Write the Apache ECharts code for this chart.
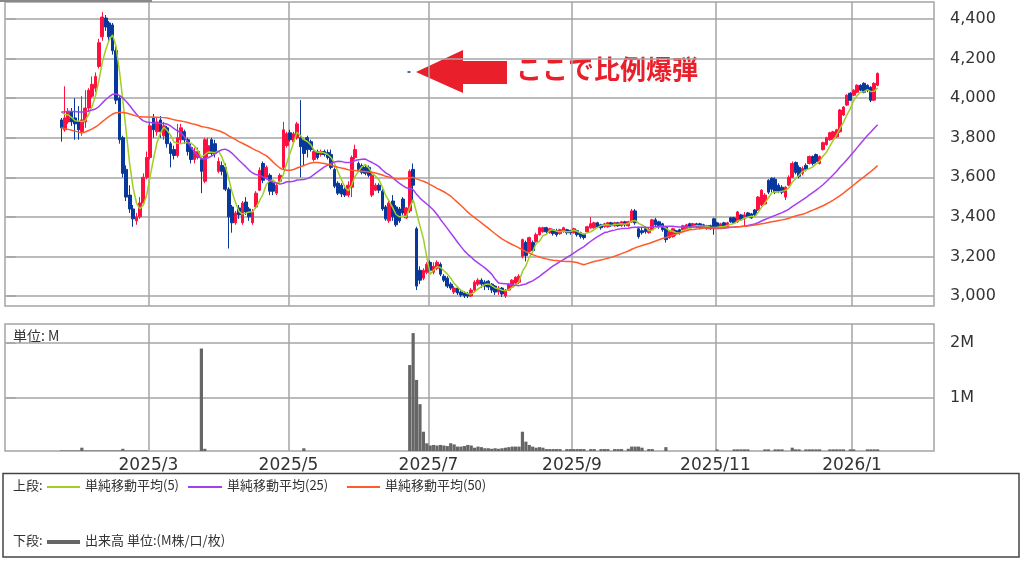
<!DOCTYPE html>
<html><head><meta charset="utf-8">
<script src="https://cdn.jsdelivr.net/npm/echarts@6/dist/echarts.min.js"></script>
<style>html,body{margin:0;padding:0;background:#fff;}#c{width:1024px;height:565px;}</style>
</head><body><div id="c"></div>
<script>
// ---- axis / calendar ----
const startDate = '2024-12-24';
const endDate = '2026-02-06';
const holidays = ['2024-12-31','2025-01-01','2025-01-02','2025-01-03','2025-01-13','2025-02-11','2025-02-24','2025-03-20','2025-04-29','2025-05-05','2025-05-06','2025-07-21','2025-08-11','2025-09-15','2025-09-23','2025-10-13','2025-11-03','2025-11-24','2025-12-31','2026-01-01','2026-01-02','2026-01-12','2026-02-11'];
const firstCandleDate = '2025-01-22';
const monthTicks = ['2025-03','2025-05','2025-07','2025-09','2025-11','2026-01'];
const priceTicks = [3000,3200,3400,3600,3800,4000,4200,4400];
const volumeTicks = [1,2];

// closes before the first visible candle (only used to seed the moving averages)
const priorCloses = [4100,4120,4080,4110,4090,4100,
3700,3680,3650,3640,3660,3670,3690,3660,3640,3650,3670,3680,3660,3650,3670,3680,3660,3650,3690,
3880,3870,3890,3880,3900,3880,3920,3940,3960,3980,3970,3950,3930,3960,3940,3950,3960,3940,3950,3950,3960,3940,3950,3950];

// [open, close, low, high]
const ohlc = [
[3890,3850,3780,3900],[3840,3900,3830,4060],[3880,3930,3870,3950],[3930,3880,3860,3950],[3900,3870,3790,4000],
[3880,3840,3790,3960],[3830,3890,3810,4010],[3880,3950,3850,4040],[3950,4040,3930,4050],[4010,4070,4000,4110],
[4050,4110,4030,4130],[4160,4280,4150,4300],[4310,4410,4290,4435],[4405,4360,4340,4420],[4380,4310,4290,4390],
[4370,4240,4220,4380],[4240,3990,3970,4260],[4000,3790,3770,4010],[3800,3620,3600,3810],[3640,3500,3480,3660],
[3510,3440,3420,3560],[3440,3390,3350,3460],[3380,3400,3360,3420],[3400,3470,3390,3500],[3470,3600,3460,3620],
[3600,3700,3590,3730],[3700,3860,3690,3880],[3900,3840,3800,3920],[3830,3880,3810,3900],[3890,3830,3800,3910],
[3810,3860,3790,3880],[3850,3770,3750,3860],[3770,3720,3650,3780],[3740,3710,3690,3760],[3710,3800,3700,3870],
[3790,3850,3770,3870],[3830,3790,3770,3840],[3790,3730,3710,3800],[3750,3690,3670,3770],[3690,3730,3670,3750],
[3700,3730,3690,3750],[3690,3630,3520,3700],[3580,3790,3570,3800],[3720,3760,3700,3800],[3790,3720,3710,3800],
[3770,3720,3700,3790],[3630,3680,3620,3700],[3660,3630,3610,3680],[3650,3540,3530,3670],[3540,3400,3240,3550],
[3450,3370,3320,3460],[3370,3420,3360,3430],[3445,3410,3390,3460],[3370,3470,3360,3480],[3475,3425,3410,3500],
[3440,3400,3380,3450],[3370,3425,3360,3440],[3450,3520,3440,3530],[3535,3635,3530,3650],[3670,3585,3570,3680],
[3600,3650,3590,3660],[3610,3530,3510,3620],[3570,3530,3510,3580],[3520,3560,3510,3570],[3580,3610,3570,3620],
[3650,3840,3640,3880],[3760,3820,3750,3830],[3825,3790,3780,3840],[3780,3820,3770,3830],[3800,3870,3790,3880],
[3800,3755,3600,3990],[3790,3720,3660,3800],[3800,3740,3700,3810],[3780,3740,3730,3790],[3690,3730,3680,3740],
[3730,3700,3690,3740],[3715,3730,3705,3740],[3730,3715,3705,3740],[3725,3700,3690,3740],[3715,3650,3640,3740],
[3640,3555,3545,3650],[3570,3520,3510,3580],[3560,3515,3500,3570],[3540,3510,3500,3560],[3510,3560,3500,3580],
[3550,3700,3500,3710],[3700,3740,3690,3765],[3670,3640,3630,3680],[3660,3625,3615,3670],[3650,3620,3610,3660],
[3650,3610,3600,3660],[3510,3610,3500,3620],[3535,3560,3530,3570],[3560,3535,3520,3570],[3530,3440,3430,3540],
[3450,3390,3380,3460],[3380,3470,3370,3480],[3480,3400,3380,3510],[3450,3360,3350,3460],[3440,3380,3370,3450],
[3490,3420,3410,3500],[3395,3445,3390,3450],[3430,3630,3420,3640],[3640,3560,3470,3670],[3340,3050,3030,3350],
[3130,3080,3060,3150],[3090,3130,3080,3140],[3120,3160,3110,3170],[3170,3130,3120,3180],[3120,3150,3110,3170],
[3140,3170,3130,3180],[3160,3110,3100,3170],[3100,3080,3070,3110],[3090,3050,3040,3100],[3060,3040,3030,3070],
[3020,3040,3010,3050],[3040,3015,3005,3050],[3020,3005,2995,3030],[3015,3000,2990,3025],[3010,3000,2990,3020],
[3000,3030,2995,3040],[3030,3070,3020,3080],[3060,3080,3050,3090],[3080,3060,3040,3090],[3070,3050,3030,3080],
[3075,3045,3030,3080],[3060,3030,3015,3065],[3050,3020,3005,3055],[3020,3040,3005,3050],[3040,3010,2995,3045],
[3000,3030,2990,3035],[3030,3060,3025,3065],[3045,3080,3040,3085],[3065,3095,3060,3100],[3070,3100,3060,3110],
[3200,3285,3190,3290],[3270,3205,3175,3280],[3225,3295,3220,3300],[3270,3230,3220,3280],[3275,3310,3270,3320],
[3310,3345,3305,3350],[3325,3345,3320,3350],[3345,3325,3315,3350],[3320,3340,3315,3345],[3335,3315,3305,3340],
[3330,3310,3300,3340],[3315,3335,3310,3340],[3325,3345,3320,3350],[3335,3320,3310,3340],[3330,3320,3310,3335],
[3320,3340,3315,3345],[3330,3310,3300,3335],[3320,3300,3290,3325],[3310,3295,3285,3315],[3325,3350,3320,3355],
[3345,3365,3340,3400],[3345,3370,3340,3375],[3370,3350,3345,3375],[3360,3345,3335,3365],[3350,3365,3345,3370],
[3350,3370,3345,3375],[3370,3355,3350,3375],[3355,3370,3350,3375],[3370,3355,3350,3375],[3355,3375,3350,3380],
[3375,3360,3350,3380],[3355,3375,3350,3380],[3375,3430,3370,3440],[3430,3370,3360,3440],[3340,3300,3290,3350],
[3330,3320,3310,3345],[3340,3325,3315,3350],[3320,3335,3315,3345],[3335,3385,3330,3390],[3385,3360,3350,3395],
[3375,3350,3340,3380],[3365,3335,3325,3370],[3350,3285,3270,3355],[3295,3325,3290,3330],[3300,3340,3295,3345],
[3330,3315,3305,3335],[3335,3320,3310,3340],[3335,3355,3330,3360],[3340,3360,3335,3365],[3365,3350,3345,3370],
[3350,3365,3345,3370],[3365,3350,3345,3370],[3365,3345,3340,3370],[3360,3350,3340,3365],[3340,3355,3335,3360],
[3355,3340,3335,3360],[3390,3340,3310,3395],[3370,3350,3340,3375],[3350,3365,3345,3370],[3370,3355,3345,3375],
[3350,3370,3345,3375],[3395,3375,3370,3400],[3395,3370,3365,3400],[3375,3425,3370,3430],[3410,3385,3380,3415],
[3390,3410,3350,3425],[3420,3400,3395,3425],[3415,3395,3390,3420],[3435,3410,3405,3440],[3435,3500,3430,3505],
[3460,3535,3455,3540],[3465,3510,3460,3520],[3585,3525,3515,3590],[3595,3540,3525,3600],[3590,3525,3515,3600],
[3560,3530,3520,3570],[3550,3525,3515,3560],[3500,3550,3485,3555],[3560,3600,3555,3610],[3600,3670,3595,3680],
[3675,3625,3615,3680],[3650,3605,3595,3660],[3620,3645,3610,3655],[3660,3640,3630,3670],[3670,3705,3665,3710],
[3705,3670,3660,3710],[3715,3680,3670,3720],[3670,3705,3665,3710],[3740,3775,3735,3780],[3765,3800,3760,3805],
[3790,3825,3785,3830],[3800,3830,3790,3835],[3805,3840,3800,3845],[3830,3940,3825,3945],[3915,3955,3910,3960],
[3965,4015,3960,4020],[4025,3990,3985,4030],[4015,4040,4010,4045],[4030,4065,4025,4070],[4065,4040,4035,4070],
[4075,4030,4025,4080],[4065,4040,4030,4070],[4055,3990,3980,4060],[3990,4075,3985,4080],[4065,4125,4060,4130]
];

// volume in millions, one per candle
const volumes = [
0.05,0.05,0.05,0.05,0.05,0.05,0.1,0.05,0.05,0.05,
0.05,0.05,0.05,0.05,0.05,0.05,0.05,0.05,0.08,0.05,
0.05,0.05,0.05,0.05,0.05,0.05,0.03,0.03,0.03,0.03,
0.03,0.03,0.03,0.03,0.03,0.03,0.03,0.03,0.03,0.03,
0.03,1.9,0.08,0.03,0.03,0.03,0.03,0.03,0.03,0.03,
0.03,0.03,0.03,0.03,0.03,0.03,0.03,0.03,0.03,0.03,
0.03,0.03,0.03,0.03,0.03,0.03,0.03,0.03,0.03,0.03,
0.03,0.09,0.03,0.03,0.03,0.03,0.03,0.03,0.03,0.03,
0.03,0.03,0.03,0.03,0.03,0.03,0.03,0.03,0.03,0.03,
0.03,0.03,0.03,0.03,0.03,0.03,0.03,0.03,0.03,0.03,
0.03,0.03,1.6,2.18,1.33,0.89,0.39,0.18,0.14,0.15,
0.14,0.15,0.14,0.13,0.18,0.16,0.12,0.12,0.13,0.15,
0.14,0.1,0.12,0.11,0.09,0.09,0.08,0.09,0.08,0.09,
0.1,0.11,0.12,0.12,0.12,0.39,0.21,0.15,0.12,0.1,
0.11,0.1,0.075,0.075,0.075,0.075,0.075,0.03,0.075,0.075,
0.075,0.075,0.075,0.075,0.03,0.075,0.075,0.03,0.075,0.075,
0.075,0.03,0.075,0.075,0.075,0.03,0.08,0.12,0.12,0.12,
0.1,0.03,0.075,0.075,0.03,0.03,0.03,0.11,0.03,0.03,
0.03,0.03,0.03,0.03,0.03,0.03,0.03,0.03,0.03,0.03,
0.03,0.03,0.07,0.03,0.03,0.03,0.03,0.07,0.07,0.07,
0.07,0.07,0.03,0.03,0.03,0.03,0.07,0.07,0.03,0.07,
0.07,0.07,0.03,0.03,0.1,0.07,0.07,0.03,0.07,0.07,
0.07,0.07,0.07,0.03,0.03,0.07,0.07,0.07,0.07,0.07,
0.03,0.07,0.07,0.03,0.03,0.03,0.07,0.07,0.07,0.07
];

const maPeriods = [5,25,50];
const maNames = ['単純移動平均(5)','単純移動平均(25)','単純移動平均(50)'];
const maColors = ['#9fcf22','#a53ef0','#ff5a2c'];
const annotationText = 'ここで比例爆弾';

// ---- build ----
function ymd(d){return d.toISOString().slice(0,10);}
const dates = [];
for (let d = new Date(startDate+'T00:00:00Z'); ymd(d) <= endDate; d.setUTCDate(d.getUTCDate()+1)) {
  const w = d.getUTCDay(), s = ymd(d);
  if (w !== 0 && w !== 6 && holidays.indexOf(s) < 0) dates.push(s);
}
const N = dates.length;
const off = dates.indexOf(firstCandleDate);
const candleData = ohlc.map((c,i)=>[off+i, c[0], c[1], c[2], c[3]]);
const volData = volumes.map((v,i)=>[off+i, v]);
const allCloses = priorCloses.concat(ohlc.map(c=>c[1]));
const P = priorCloses.length;
const maData = maPeriods.map(n => ohlc.map((c,i)=>{
  let s = 0; for (let k = P+i-n+1; k <= P+i; k++) s += allCloses[k];
  return [off+i, +(s/n).toFixed(1)];
}));
// boundary (left edge of first trading day) of each labelled month
const monthBounds = monthTicks.map(m => dates.findIndex(d => d.slice(0,7) === m) - 0.5);
function monthLabel(v){
  const d = dates[Math.round(v + 0.5)];
  return d ? d.slice(0,4) + '/' + (+d.slice(5,7)) : '';
}
const gridColor = '#a4a4a4';
const numFont = 'DejaVu Sans';
const jpFont = '"Noto Sans CJK JP", sans-serif';

function xAx(gi, showLabel){
  return {type:'value', gridIndex:gi, min:-0.5, max:N-0.5,
    axisLine:{show:false},
    axisTick:{show:false, customValues:monthBounds},
    axisLabel:{show:showLabel, customValues:monthBounds, margin:6, color:'#333', fontFamily:numFont, fontSize:17, formatter:monthLabel},
    splitLine:{show:true, lineStyle:{color:gridColor, width:1.5}}};
}

const chart = echarts.init(document.getElementById('c'), null, {renderer:'canvas'});
const option = {
  animation: false,
  backgroundColor: '#fff',
  grid: [
    {left:5, top:2, width:929, height:304, show:true, borderColor:gridColor, borderWidth:1.5, backgroundColor:'#fff'},
    {left:5, top:324, width:929, height:127, show:true, borderColor:gridColor, borderWidth:1.5, backgroundColor:'#fff'}
  ],
  xAxis: [xAx(0,false), xAx(1,true)],
  yAxis: [
    {type:'value', gridIndex:0, position:'right', min:2949.5, max:4486,
     axisLine:{show:false},
     axisTick:{show:true, inside:false, length:9, customValues:priceTicks, lineStyle:{color:gridColor, width:1.5}},
     axisLabel:{show:true, customValues:priceTicks, margin:16, color:'#333', fontFamily:numFont, fontSize:16,
       formatter:(v)=>Number(v).toLocaleString('en-US')},
     splitLine:{show:true, lineStyle:{color:gridColor, width:1.5}}},
    {type:'value', gridIndex:1, position:'right', min:0.04, max:2.345,
     axisLine:{show:false},
     axisTick:{show:true, inside:false, length:9, customValues:volumeTicks, lineStyle:{color:gridColor, width:1.5}},
     axisLabel:{show:true, customValues:volumeTicks, margin:16, color:'#333', fontFamily:numFont, fontSize:16,
       formatter:(v)=>v+'M'},
     splitLine:{show:true, lineStyle:{color:gridColor, width:1.5}}}
  ],
  series: [
    {type:'candlestick', name:'price', xAxisIndex:0, yAxisIndex:0, data:candleData,
     encode:{x:0, y:[1,2,3,4]}, barWidth:3.2,
     itemStyle:{color:'#ff1040', color0:'#08389c', borderColor:'#ff1040', borderColor0:'#08389c', borderWidth:1}},
    ...maData.map((d,k)=>({type:'line', name:maNames[k], xAxisIndex:0, yAxisIndex:0, data:d,
      showSymbol:false, symbol:'none', lineStyle:{color:maColors[k], width:1.5}, z:3})),
    {type:'bar', name:'出来高', xAxisIndex:1, yAxisIndex:1, data:volData, barWidth:3.2,
     itemStyle:{color:'#666666'}, clip:true}
  ],
  graphic: [
    {type:'line', shape:{x1:0,y1:1,x2:152,y2:1}, style:{stroke:'#888', lineWidth:2}},
    {type:'text', left:13, top:329, style:{text:'単位: M', font:'14px '+jpFont, fill:'#333'}},
    {type:'polygon', shape:{points:[[416,72],[463,50],[463,61],[507,61],[507,84],[463,84],[463,93]]}, style:{fill:'#e9202b'}},
    {type:'text', left:516, top:56, style:{text:annotationText, font:'bold 26px '+jpFont, fill:'#e9202b'}},
    {type:'line', shape:{x1:407.5,y1:72,x2:410.5,y2:72}, style:{stroke:'#08389c', lineWidth:1.5}},
    {type:'rect', shape:{x:3,y:473.5,width:1016,height:83.5}, style:{fill:'none', stroke:'#444', lineWidth:1.5}},
    {type:'text', left:13, top:479, style:{text:'上段:', font:'13px '+jpFont, fill:'#333'}},
    {type:'line', shape:{x1:47,y1:487,x2:80,y2:487}, style:{stroke:maColors[0], lineWidth:2}},
    {type:'text', left:85, top:479, style:{text:maNames[0], font:'13px '+jpFont, fill:'#333'}},
    {type:'line', shape:{x1:188,y1:487,x2:222,y2:487}, style:{stroke:maColors[1], lineWidth:2}},
    {type:'text', left:227, top:479, style:{text:maNames[1], font:'13px '+jpFont, fill:'#333'}},
    {type:'line', shape:{x1:347,y1:487,x2:380,y2:487}, style:{stroke:maColors[2], lineWidth:2}},
    {type:'text', left:385, top:479, style:{text:maNames[2], font:'13px '+jpFont, fill:'#333'}},
    {type:'text', left:13, top:534, style:{text:'下段:', font:'13px '+jpFont, fill:'#333'}},
    {type:'line', shape:{x1:47,y1:542,x2:80,y2:542}, style:{stroke:'#666', lineWidth:4}},
    {type:'text', left:85, top:534, style:{text:'出来高 単位:(M株/口/枚)', font:'13px '+jpFont, fill:'#333'}}
  ]
};
chart.setOption(option);
</script>
</body></html>
